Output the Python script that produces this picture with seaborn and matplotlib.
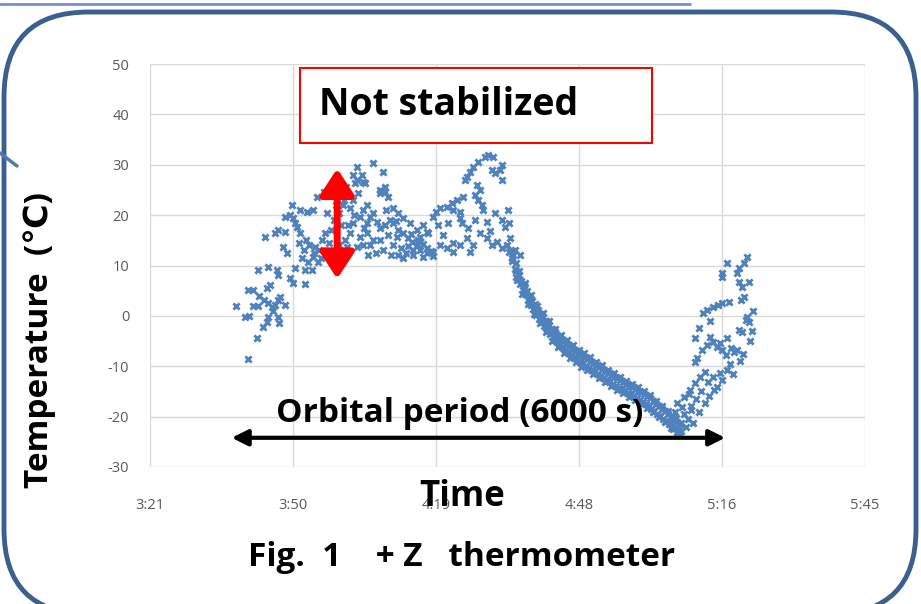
import numpy as np
import pandas as pd
import matplotlib.pyplot as plt
import seaborn as sns
from matplotlib.patches import FancyBboxPatch, Rectangle

# time in minutes after 3:21, temperature in deg C
t_early = [19.8, 21.5, 17.3, 19.1, 19.7, 20.8, 20.8, 21.8, 22.9, 23.7, 24.5, 25.2, 25.8, 26.2, 27.2,
           23.7, 23.5, 22.7, 25.8, 21.7, 23.7, 25.6, 25.8, 23.5, 24.1, 28.2, 28.8, 31.2, 23.1, 25.2,
           25.8, 27.2, 26.8, 27.6, 27.2, 28.2, 28.8, 29.2, 29.6, 28.6, 30.2, 31.6, 32.8, 30.2, 29.2,
           30.6, 31.2, 31.8, 32.8, 33.8, 32.6, 34.6, 35.2, 33.2, 35.6, 33.6, 31.0, 32.0, 33.0, 34.0,
           30.0, 31.5, 34.5, 35.5, 36.0, 36.5, 37.0, 37.5, 36.5, 35.0, 37.0, 38.0, 26.0, 24.8, 22.0, 20.0]
temp_early = [-8.6, -4.3, 2.0, -0.2, 5.2, 5.2, 2.0, 2.0, 3.2, 2.6, 1.8, 2.2, 3.2, 3.8, 2.2,
              -0.2, -1.2, -2.2, -0.2, 9.1, 9.7, 9.1, 8.1, 5.6, 6.2, 7.5, 6.5, 6.3, 15.7, 16.5,
              17.1, 16.7, 13.7, 12.5, 19.6, 20.0, 19.4, 18.5, 17.7, 22.0, 21.0, 20.6, 21.0, 16.5, 9.5,
              11.5, 9.1, 10.7, 11.7, 10.7, 9.1, 15.1, 16.5, 13.7, 20.4, 23.6, 13.0, 14.0, 12.5, 13.0,
              14.5, 15.0, 11.5, 12.0, 14.5, 17.0, 19.0, 22.0, 25.0, 24.5, 12.0, 14.0, -1.5, 1.0, 4.0, 0.0]

t_hump1 = [44.9, 46.9, 41.6, 40.8, 41.6, 43.3, 46.3, 47.3, 47.9, 48.9, 49.9, 50.9, 52.3, 53.7, 42.9,
           42.7, 41.2, 41.9, 40.8, 40.2, 46.3, 47.3, 43.7, 42.9, 44.3, 43.7, 42.3, 40.8, 40.2, 39.2,
           39.6, 45.7, 46.3, 47.3, 48.3, 48.9, 49.9, 49.7, 50.9, 51.9, 52.7, 53.7, 52.9, 54.3, 54.9,
           55.7, 54.3, 55.9, 42.3, 43.7, 44.9, 44.3, 46.3, 42.9, 41.6, 48.0, 49.0, 50.5, 51.5, 52.0,
           53.0, 56.5, 57.0, 50.0, 47.0, 45.5, 44.0, 48.5, 51.0, 38.5, 38.0, 39.0, 39.5, 37.5,
           45.0, 47.5, 49.5, 52.5, 54.0, 55.0, 43.0, 41.0, 39.8, 38.8]
temp_hump1 = [30.4, 28.6, 29.6, 28.0, 27.0, 26.4, 24.4, 24.6, 23.6, 21.4, 20.4, 19.4, 18.5, 17.1, 26.6,
              28.0, 26.4, 24.4, 23.0, 21.4, 25.0, 25.6, 22.0, 21.0, 19.6, 18.5, 19.6, 18.5, 16.5, 15.1,
              13.7, 18.7, 17.5, 18.1, 19.0, 18.5, 17.1, 15.7, 16.5, 15.5, 14.7, 14.1, 13.1, 13.1, 11.7,
              12.5, 15.7, 16.5, 15.7, 16.5, 15.1, 14.1, 15.1, 14.1, 13.7, 16.0, 14.0, 13.5, 12.5, 13.8,
              12.0, 12.8, 11.8, 12.0, 13.0, 12.5, 12.0, 12.0, 11.5, 18.0, 20.5, 23.0, 25.5, 24.0,
              20.5, 21.0, 18.8, 16.2, 15.0, 14.2, 17.5, 20.0, 18.0, 22.0]

t_hump2 = [67.4, 69.0, 66.0, 65.0, 64.4, 63.8, 63.4, 70.8, 70.4, 68.8, 69.4, 70.8, 65.8, 66.4, 65.4,
           66.0, 66.8, 67.0, 63.0, 61.8, 60.8, 59.8, 58.4, 57.7, 56.9, 61.0, 62.4, 62.4, 62.8, 69.4,
           70.8, 72.0, 72.4, 71.4, 67.8, 66.4, 67.8, 68.8, 69.8, 70.8, 71.8, 72.4, 73.0, 73.8, 54.3,
           55.7, 56.9, 58.4, 59.8, 61.0, 62.4, 63.8, 65.0, 55.7, 54.9, 59.0, 64.4, 61.0, 68.0, 72.5,
           73.5, 74.5, 60.0, 58.0, 64.0, 65.5, 68.5]
temp_hump2 = [31.5, 31.5, 30.6, 29.6, 28.6, 27.6, 27.0, 30.0, 29.0, 29.0, 28.4, 27.0, 26.0, 25.0, 24.0,
              23.0, 22.0, 21.0, 23.6, 23.0, 22.4, 21.6, 21.4, 20.6, 19.6, 21.0, 20.6, 19.4, 18.5, 20.4,
              19.0, 21.0, 18.5, 17.7, 18.7, 16.5, 15.5, 14.1, 14.7, 13.5, 14.1, 12.7, 11.5, 10.5, 14.7,
              13.5, 12.7, 14.1, 13.5, 14.5, 14.1, 15.5, 14.1, 16.7, 18.1, 16.1, 12.7, 12.7, 32.0, 15.5,
              13.0, 12.0, 18.5, 18.0, 17.5, 19.0, 16.8]

t_fall = [72.6, 73.0, 73.2, 73.5, 73.8, 74.0, 74.3, 74.6, 74.8, 75.1, 75.3, 75.6, 75.9, 76.2, 76.4,
          76.7, 77.0, 77.2, 77.5, 77.8, 78.1, 78.3, 78.6, 78.9, 79.2, 79.4, 79.7, 80.0, 80.3, 80.6,
          80.9, 81.2, 81.5, 81.8, 82.1, 82.4, 82.7, 83.0, 83.3, 83.6, 83.9, 84.2, 84.5, 84.8, 85.1,
          85.4, 85.7, 86.0, 86.3, 86.6, 86.9, 87.2, 87.5, 87.8, 88.1, 88.4, 88.7, 89.0, 89.3, 89.6,
          89.9, 90.2, 90.5, 90.8, 91.1, 91.4, 91.7, 92.0, 92.3, 92.6, 92.9, 93.2, 93.5, 93.8, 94.1,
          94.4, 94.7, 95.0, 95.3, 95.6, 95.9, 96.2, 96.5, 96.8, 97.1, 97.4, 97.7, 98.0, 98.3, 98.6,
          98.9, 99.2, 99.5, 99.8, 100.1, 100.4, 100.7, 101.0, 101.3, 101.6, 101.9, 102.2, 102.5, 102.8,
          103.1, 103.4, 103.7, 104.0, 104.3, 104.6, 104.9, 105.2, 105.5, 105.8, 106.1, 106.4, 106.7, 107.0]
temp_fall = [12.8, 10.9, 12.1, 9.4, 8.9, 7.2, 8.1, 6.4, 7.0, 5.1, 6.2, 4.3, 5.0, 3.1, 4.0,
             2.2, 3.0, 1.4, 2.3, 0.2, 1.1, -0.6, 0.4, -1.3, -0.2, -2.0, -1.0, -2.9, -1.8, -3.5,
             -2.6, -4.1, -3.2, -4.9, -3.9, -5.6, -4.5, -6.1, -5.0, -6.7, -5.5, -7.2, -6.0, -7.8, -6.5,
             -8.2, -7.0, -8.7, -7.5, -9.1, -7.9, -9.4, -8.2, -9.9, -8.6, -10.3, -9.0, -10.8, -9.3, -11.0,
             -9.8, -11.5, -10.2, -11.9, -10.5, -12.4, -10.9, -12.7, -11.3, -13.0, -11.8, -13.5, -12.1, -13.9, -12.4,
             -14.3, -12.8, -14.6, -13.1, -15.0, -13.5, -15.3, -13.9, -15.6, -14.2, -16.0, -14.5, -16.3, -14.9, -16.7,
             -15.2, -17.0, -15.6, -17.4, -16.0, -17.9, -16.4, -18.4, -16.9, -18.9, -17.4, -19.4, -17.9, -19.9,
             -18.4, -20.4, -18.9, -20.9, -19.4, -21.4, -20.0, -21.8, -20.6, -22.3, -21.0, -22.6, -21.4, -22.8]

t_fall_b = [73.1, 73.7, 74.3, 74.9, 75.5, 76.1, 76.7, 77.3, 77.9, 78.5, 79.1, 79.7, 80.3, 80.9, 81.5,
            82.1, 82.7, 83.3, 83.9, 84.5, 85.1, 85.7, 86.3, 86.9, 87.5, 88.1, 88.7, 89.3, 89.9, 90.5,
            91.1, 91.7, 92.3, 92.9, 93.5, 94.1, 94.7, 95.3, 95.9, 96.5, 97.1, 97.7, 98.3, 98.9, 99.5,
            100.1, 100.7, 101.3, 101.9, 102.5, 103.1, 103.7, 104.3, 104.9, 105.5, 106.1]
temp_fall_b = [12.9, 7.8, 9.0, 4.4, 6.6, 2.4, 4.2, 0.3, 2.0, -1.5, 0.6, -3.3, -1.1, -4.9, -2.6,
               -6.2, -3.8, -7.3, -4.8, -8.3, -5.8, -9.2, -6.8, -10.1, -7.4, -10.8, -8.2, -11.5, -9.1, -12.3,
               -9.8, -13.1, -10.7, -13.9, -11.4, -14.7, -12.1, -15.4, -12.9, -16.1, -13.5, -16.7, -14.2, -17.5, -14.9,
               -18.2, -15.8, -19.1, -16.8, -20.1, -17.8, -21.1, -18.9, -22.2, -20.0, -23.0]

t_rise = [104.8, 105.3, 106.0, 106.5, 107.0, 107.5, 108.0, 108.4, 108.9, 107.2, 109.3, 105.7,
          106.2, 107.6, 108.7, 109.7, 110.7, 111.7, 112.3, 113.3, 114.1, 114.7, 115.3, 116.3,
          109.7, 110.1, 111.1, 112.1, 112.7, 113.3, 114.1, 114.7, 115.3, 116.1, 116.3, 117.1, 117.7,
          118.3, 118.7, 119.3, 120.1, 120.3, 109.7, 111.3, 112.1, 113.3, 114.3, 115.1, 116.7, 119.1,
          119.7, 120.7, 118.7, 119.3, 120.7, 118.3, 115.1, 115.3, 116.3, 118.7, 119.7, 120.3,
          110.0, 111.0, 112.5, 113.5, 109.0, 110.5, 111.8, 108.5, 116.8, 117.5, 118.8, 119.5,
          120.8, 121.2, 121.5, 110.5, 112.8]
temp_rise = [-21.0, -22.5, -20.2, -23.0, -21.2, -19.5, -22.0, -20.5, -18.7, -18.0, -21.3, -19.0,
             -17.3, -16.1, -14.7, -13.3, -12.1, -11.1, -13.1, -12.1, -14.1, -11.3, -12.7, -10.7,
             -9.1, -8.3, -6.7, -5.8, -4.2, -5.2, -6.2, -5.4, -6.7, -7.7, -4.4, -6.3, -7.1,
             -6.7, -2.8, -3.2, -0.8, -0.2, -4.4, 0.6, 1.2, 1.8, 2.2, 2.6, 2.8, 3.2,
             3.8, -1.2, 6.7, 5.8, 6.7, 8.5, 7.7, 8.5, 10.5, 9.5, 10.5, 11.7,
             -16.5, -15.0, -16.0, -14.8, -17.8, -19.0, -17.2, -15.5, -9.5, -11.5, -9.0, -7.5,
             -5.0, -3.0, 1.0, -2.5, -1.0]

tick_pos = [0, 28.8, 57.6, 86.4, 115.2, 144]
tick_labels = ["3:21", "3:50", "4:19", "4:48", "5:16", "5:45"]
y_ticks = [-30, -20, -10, 0, 10, 20, 30, 40, 50]

df = pd.DataFrame({
    "time": t_early + t_hump1 + t_hump2 + t_fall + t_fall_b + t_rise,
    "temp": temp_early + temp_hump1 + temp_hump2 + temp_fall + temp_fall_b + temp_rise,
})

sns.set_theme(style="white")
plt.rcParams["font.family"] = ["Open Sans", "DejaVu Sans"]
plt.rcParams["axes.unicode_minus"] = False

W, H = 921, 604
fig = plt.figure(figsize=(W / 100, H / 100), dpi=100)
fig.patch.set_facecolor("white")

# frame layer in pixel coords
bg = fig.add_axes([0, 0, 1, 1], zorder=0)
bg.set_xlim(0, W)
bg.set_ylim(H, 0)
bg.axis("off")
frame = FancyBboxPatch((4, 12), 912, 602, boxstyle="round,pad=0,rounding_size=85",
                       fc="white", ec="#3B5F8F", lw=3.5)
bg.add_patch(frame)
bg.plot([0, 690], [4, 4], color="#6F93C9", lw=2)
bg.plot([0, 17], [153, 166], color="#4F7BB5", lw=2.5)

ax = fig.add_axes([150 / W, 1 - 467 / H, 715 / W, 403 / H], zorder=2)
ax.set_facecolor("white")
sns.scatterplot(data=df, x="time", y="temp", marker="x", s=20, linewidth=2.0,
                color="#4F81BD", ax=ax, zorder=3)

ax.set_xlim(0, 144)
ax.set_ylim(-30, 50)
ax.set_xticks(tick_pos)
ax.set_xticklabels(tick_labels)
ax.set_yticks(y_ticks)
ax.grid(True, color="#D9D9D9", lw=1)
for s in ax.spines.values():
    s.set_visible(False)
ax.tick_params(axis="both", length=0, labelsize=10.5, labelcolor="#595959")
ax.tick_params(axis="x", pad=22)
ax.tick_params(axis="y", pad=15)

ax.set_xlabel("Time", fontsize=25, fontweight="bold", color="black")
ax.xaxis.set_label_coords((462 - 150) / 715, (467 - 497) / 403)
ax.xaxis.label.set_va("center")
ax.set_ylabel("Temperature  (\u2103)", fontsize=24, fontweight="bold", color="black")
ax.yaxis.set_label_coords((40 - 150) / 715, (467 - 340) / 403)
ax.yaxis.label.set_va("center")

# "Not stabilized" box
ax.add_patch(Rectangle((30.2, 34.3), 70.9, 14.9, fc="white", ec="red", lw=1.5, zorder=4, clip_on=False))
ax.text(34.0, 41.8, "Not stabilized", fontsize=27, fontweight="bold", color="black",
        va="center", ha="left", zorder=5)

# red double arrow
ax.annotate("", xy=(37.7, 29.8), xytext=(37.7, 6.8),
            arrowprops=dict(arrowstyle="<|-|>,head_length=1.3,head_width=0.85", color="red", lw=5),
            zorder=6)

# orbital period arrow
ax.annotate("", xy=(116.4, -24.2), xytext=(15.9, -24.2),
            arrowprops=dict(arrowstyle="<|-|>,head_length=0.8,head_width=0.4", color="black", lw=3),
            zorder=6, annotation_clip=False)
ax.text(62.4, -19.3, "Orbital period (6000 s)", fontsize=24, fontweight="bold", color="black",
        ha="center", va="center", zorder=6)

fig.text(462 / W, 1 - 558 / H, "Fig.  1    + Z   thermometer", fontsize=24, fontweight="bold",
         color="black", ha="center", va="center")

fig.savefig("out.png", dpi=100)
